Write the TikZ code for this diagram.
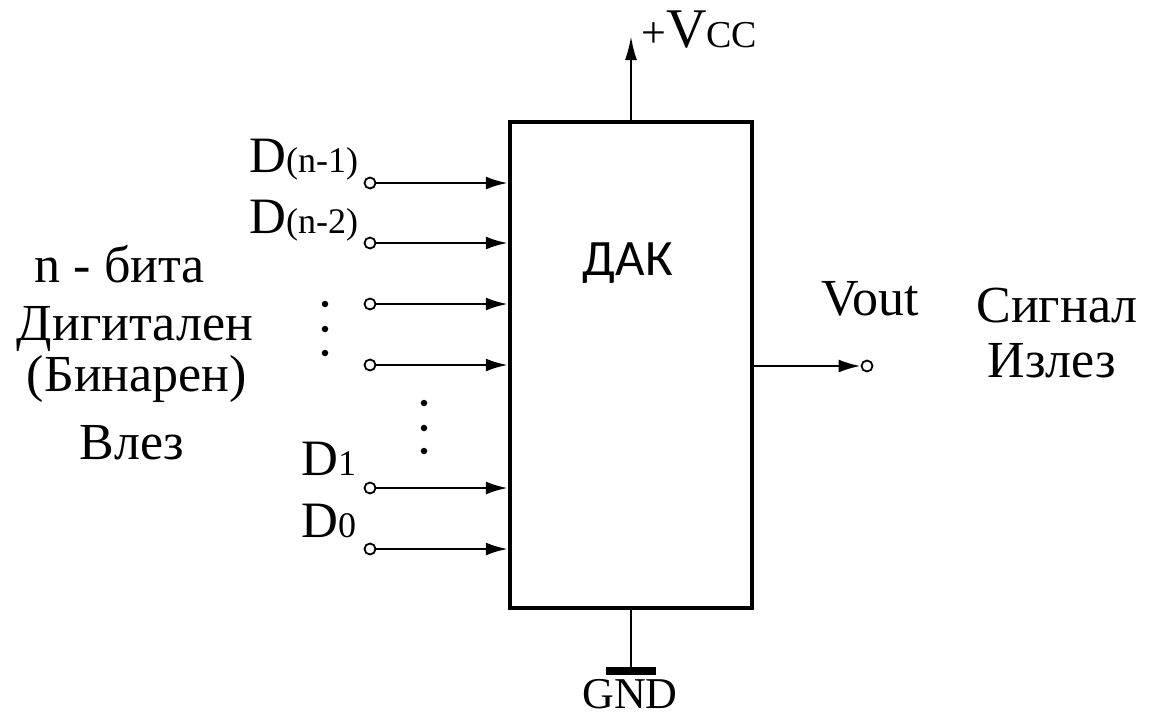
\documentclass[tikz,border=0pt]{standalone}
\usepackage{fontspec}
\setmainfont{Liberation Serif}
\newfontfamily\dacfont{Carlito}
\usetikzlibrary{arrows.meta}
\tikzset{
  term/.style={circle, draw, line width=1.8pt, minimum size=11pt, inner sep=0pt, fill=white},
  arr/.style={line width=2.5pt, -{Latex[length=22pt,width=13pt]}},
  lbl/.style={anchor=base, inner sep=0pt, font=\fontsize{52}{60}\selectfont},
  dotm/.style={circle, fill=black, inner sep=0pt, minimum size=6.5pt},
}
\newcommand{\dlabel}[1]{\fontsize{51}{60}\selectfont D\fontsize{36}{42}\selectfont #1}
\begin{document}
\begin{tikzpicture}[x=1pt,y=-1pt]
\useasboundingbox (0,0) rectangle (1149,718);
% main block
\node[draw, line width=4.5pt, minimum width=242pt, minimum height=486pt, inner sep=0pt] (dac) at (631,365) {};
\node[anchor=base, inner sep=0pt, font=\dacfont\fontsize{51}{60}\selectfont] (dactext) at (628,275) {ДАК};
% supply
\coordinate (vcc) at (631,36);
\draw[line width=2.5pt, -{Latex[length=24pt,width=12pt]}] (dac.north) -- (vcc);
\node[anchor=base west, inner sep=0pt] (vcclbl) at (641,47) {\fontsize{44}{52}\selectfont +\fontsize{56}{64}\selectfont V\fontsize{38}{44}\selectfont CC};
% ground
\coordinate (gnd) at (631,671);
\draw[line width=2.5pt] (dac.south) -- (gnd);
\draw[line width=8pt] ([xshift=-25pt]gnd) -- ([xshift=25pt]gnd);
\node[lbl, font=\fontsize{44}{52}\selectfont] (gndlbl) at (630,708) {GND};
% inputs
\node[term] (i1) at (370,183) {};
\node[term] (i2) at (370,243) {};
\node[term] (i3) at (370,304) {};
\node[term] (i4) at (370,365) {};
\node[term] (i5) at (370,488) {};
\node[term] (i6) at (370,549) {};
\foreach \n in {i1,i2,i3,i4,i5,i6}{
  \draw[arr] (\n) -- (\n -| dac.west);
}
\node[anchor=base west, inner sep=0pt] (d1lbl) at (249,172) {\dlabel{(n-1)}};
\node[anchor=base west, inner sep=0pt] (d2lbl) at (249,233) {\dlabel{(n-2)}};
\node[anchor=base west, inner sep=0pt] (d3lbl) at (301,475) {\dlabel{1}};
\node[anchor=base west, inner sep=0pt] (d4lbl) at (301,537) {\dlabel{0}};
% dots
\node[dotm] (da1) at (325,304) {};
\node[dotm] (da2) at (325,329) {};
\node[dotm] (da3) at (325,353) {};
\node[dotm] (db1) at (424,403) {};
\node[dotm] (db2) at (424,428) {};
\node[dotm] (db3) at (424,451) {};
% output
\node[term] (out) at (867,366) {};
\draw[arr] (dac.east |- out) -- (out.west);
\node[lbl] (vout) at (870,315) {Vout};
\node[lbl] (sig1) at (1057,322) {Сигнал};
\node[lbl] (sig2) at (1052,377) {Излез};
% left description
\node[lbl] (t1) at (120,282) {n - бита};
\node[lbl] (t2) at (135,340) {Дигитален};
\node[lbl] (t3) at (137,391) {(Бинарен)};
\node[lbl] (t4) at (132,459) {Влез};
\end{tikzpicture}
\end{document}
